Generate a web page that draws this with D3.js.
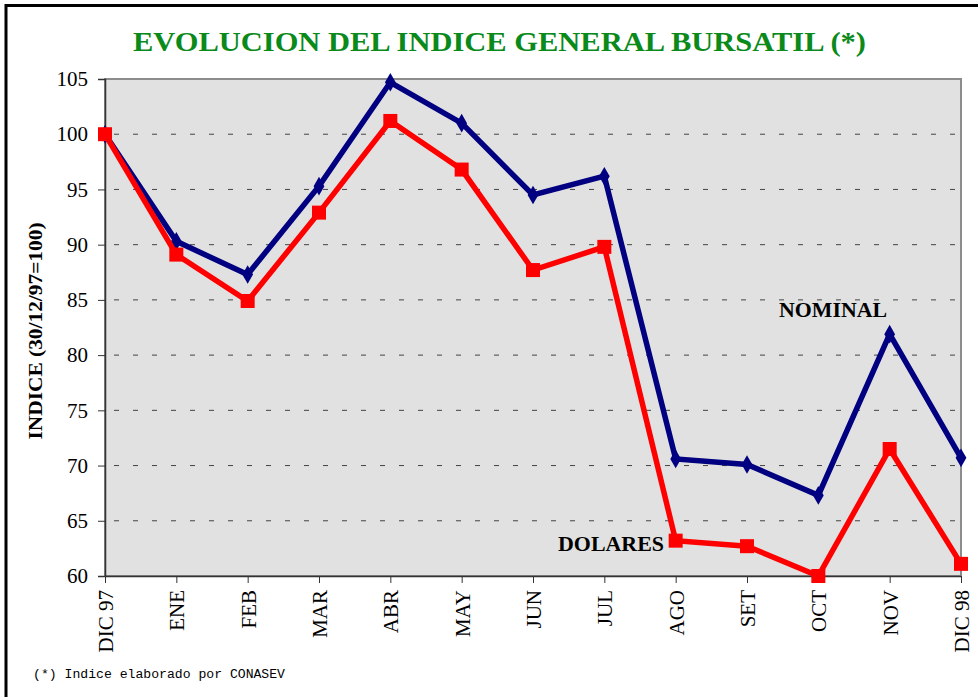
<!DOCTYPE html>
<html>
<head>
<meta charset="utf-8">
<script src="https://cdn.jsdelivr.net/npm/d3@7"></script>
<style>
    body { margin: 0; background: #fff; }
    svg { display: block; }
</style>
</head>
<body>
<svg id="chart" width="978" height="697"></svg>
<script>
// data
const months = ["DIC 97", "ENE", "FEB", "MAR", "ABR", "MAY", "JUN", "JUL", "AGO", "SET", "OCT", "NOV", "DIC 98"];
const nominal = [100, 90.3, 87.3, 95.3, 104.7, 101.0, 94.5, 96.2, 70.6, 70.1, 67.3, 81.9, 70.7];
const dolares = [100, 89.1, 84.9, 92.9, 101.2, 96.8, 87.7, 89.8, 63.2, 62.7, 60.0, 71.5, 61.1];
const yTicks = [60, 65, 70, 75, 80, 85, 90, 95, 100, 105];

const svg = d3.select("#chart");
const margin = { top: 79, right: 17, bottom: 121, left: 105 };
const width = 978 - margin.left - margin.right;
const height = 697 - margin.top - margin.bottom;
const serif = "'Liberation Serif', 'Times New Roman', serif";

// outer frame (left and top edges visible)
svg.append("path")
    .attr("d", "M6,700 V5.5 H990")
    .attr("fill", "none")
    .attr("stroke", "#000")
    .attr("stroke-width", 3);

// title
svg.append("text")
    .attr("x", 133)
    .attr("y", 51)
    .attr("font-family", serif)
    .attr("font-weight", "bold")
    .attr("font-size", 28)
    .attr("fill", "#0a8a1a")
    .attr("textLength", 733)
    .attr("lengthAdjust", "spacingAndGlyphs")
    .text("EVOLUCION DEL INDICE GENERAL BURSATIL (*)");

const g = svg.append("g")
    .attr("transform", `translate(${margin.left},${margin.top})`);

const x = d3.scalePoint()
    .domain(months)
    .range([0, width]);

const y = d3.scaleLinear()
    .domain([60, 105])
    .range([height, 0]);

// plot background
g.append("rect")
    .attr("width", width)
    .attr("height", height)
    .attr("fill", "#e1e1e1")
    .attr("stroke", "#8c8c8c")
    .attr("stroke-width", 2);

// dashed grid
g.append("g")
    .selectAll("line")
    .data(yTicks.filter(d => d > 60 && d < 105))
    .join("line")
    .attr("x1", 0)
    .attr("x2", width)
    .attr("y1", d => y(d))
    .attr("y2", d => y(d))
    .attr("stroke", "#444")
    .attr("stroke-width", 1)
    .attr("stroke-dasharray", "5,14")
    .attr("stroke-dashoffset", -9);

// y axis
const yAxis = g.append("g")
    .call(d3.axisLeft(y).tickValues(yTicks).tickSize(7).tickPadding(10));
yAxis.select(".domain").attr("stroke", "#333").attr("stroke-width", 1.5);
yAxis.selectAll(".tick line").attr("stroke", "#333");
yAxis.selectAll("text")
    .attr("font-family", serif)
    .attr("font-size", 21)
    .attr("fill", "#000");

// x axis
const xAxis = g.append("g")
    .attr("transform", `translate(0,${height})`)
    .call(d3.axisBottom(x).tickSize(7).tickSizeOuter(0));
xAxis.select(".domain").attr("stroke", "#333").attr("stroke-width", 1.5);
xAxis.selectAll(".tick line").attr("stroke", "#333");
xAxis.selectAll("text")
    .attr("font-family", serif)
    .attr("font-size", 21)
    .attr("fill", "#000")
    .attr("transform", "rotate(-90)")
    .attr("text-anchor", "end")
    .attr("x", -14)
    .attr("y", 0)
    .attr("dy", "0.35em");

// y axis title
svg.append("text")
    .attr("transform", "translate(42,331) rotate(-90)")
    .attr("text-anchor", "middle")
    .attr("font-family", serif)
    .attr("font-weight", "bold")
    .attr("font-size", 19)
    .attr("textLength", 217)
    .attr("lengthAdjust", "spacingAndGlyphs")
    .text("INDICE (30/12/97=100)");

const line = d3.line()
    .x((d, i) => x(months[i]))
    .y(d => y(d));

// nominal series
g.append("path")
    .datum(nominal)
    .attr("d", line)
    .attr("fill", "none")
    .attr("stroke", "#000080")
    .attr("stroke-width", 5.5);

g.append("g")
    .selectAll("path")
    .data(nominal)
    .join("path")
    .attr("d", d3.symbol(d3.symbolDiamond, 100))
    .attr("transform", (d, i) => `translate(${x(months[i])},${y(d)})`)
    .attr("fill", "#000080");

// dolares series
g.append("path")
    .datum(dolares)
    .attr("d", line)
    .attr("fill", "none")
    .attr("stroke", "#ff0000")
    .attr("stroke-width", 5.5);

g.append("g")
    .selectAll("rect")
    .data(dolares)
    .join("rect")
    .attr("x", (d, i) => x(months[i]) - 7)
    .attr("y", d => y(d) - 7)
    .attr("width", 14)
    .attr("height", 14)
    .attr("fill", "#ff0000");

// series labels
svg.append("text")
    .attr("x", 779)
    .attr("y", 317)
    .attr("font-family", serif)
    .attr("font-weight", "bold")
    .attr("font-size", 20)
    .attr("textLength", 108)
    .attr("lengthAdjust", "spacingAndGlyphs")
    .text("NOMINAL");

svg.append("text")
    .attr("x", 558)
    .attr("y", 551)
    .attr("font-family", serif)
    .attr("font-weight", "bold")
    .attr("font-size", 20)
    .attr("textLength", 106)
    .attr("lengthAdjust", "spacingAndGlyphs")
    .text("DOLARES");

// footnote
svg.append("text")
    .attr("x", 33)
    .attr("y", 678)
    .attr("font-family", "'Liberation Mono', monospace")
    .attr("font-size", 12)
    .attr("textLength", 252)
    .attr("lengthAdjust", "spacingAndGlyphs")
    .text("(*) Indice elaborado por CONASEV");
</script>
</body>
</html>
